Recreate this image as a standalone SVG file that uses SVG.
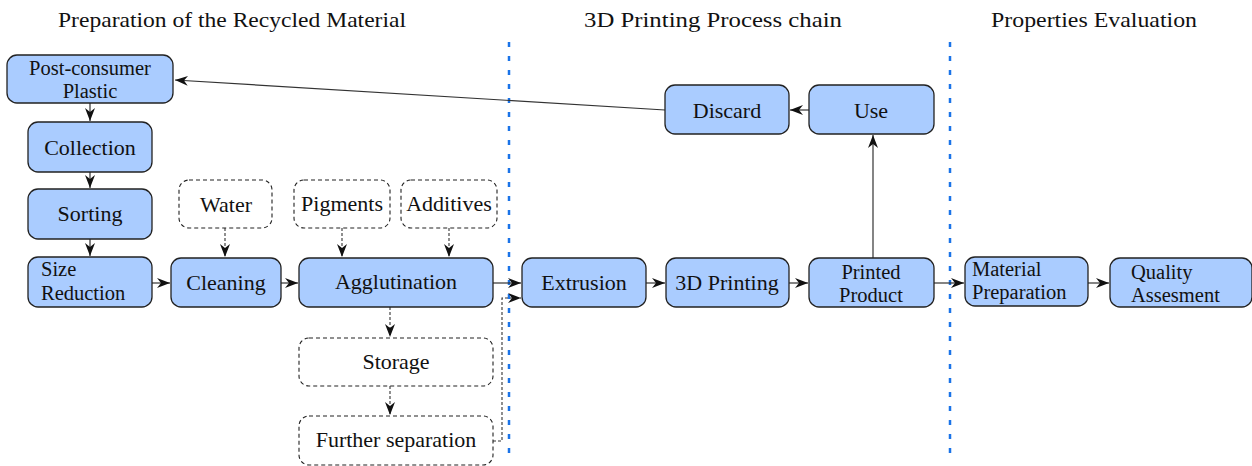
<svg xmlns="http://www.w3.org/2000/svg" width="1252" height="466" viewBox="0 0 1252 466" font-family="'Liberation Serif', 'DejaVu Serif', serif">
<style>
.n{fill:#aaccff;stroke:#222;stroke-width:1.3}
.d{fill:#fff;stroke:#222;stroke-width:1.1;stroke-dasharray:4 3}
.t{font-family:'Liberation Serif','DejaVu Serif',serif;font-size:22px;text-anchor:middle;fill:#111}
.t2{font-family:'Liberation Serif','DejaVu Serif',serif;font-size:20.5px;text-anchor:middle;fill:#111}
.tl{font-family:'Liberation Serif','DejaVu Serif',serif;font-size:20.5px;fill:#111}
.h{font-family:'Liberation Serif','DejaVu Serif',serif;font-size:22px;text-anchor:middle;fill:#111}
.c{fill:none;stroke:#333;stroke-width:1.2}
.cd{fill:none;stroke:#333;stroke-width:1.1;stroke-dasharray:3 2}
.sep{stroke:#1a73e8;stroke-width:2.5;stroke-dasharray:5 9}
</style>
<defs>
<marker id="a" markerWidth="14" markerHeight="10" refX="13" refY="5" orient="auto" markerUnits="userSpaceOnUse">
<path d="M0,0 L13,5 L0,10 L4,5 Z" fill="#111"/>
</marker>
</defs>
<g id="headers">
<text class="h" x="232" y="27" textLength="348" lengthAdjust="spacingAndGlyphs">Preparation of the Recycled Material</text>
<text class="h" x="713" y="27" textLength="258" lengthAdjust="spacingAndGlyphs">3D Printing Process chain</text>
<text class="h" x="1094" y="27" textLength="206" lengthAdjust="spacingAndGlyphs">Properties Evaluation</text>
</g>
<g id="separators">
<line class="sep" x1="509" y1="42" x2="509" y2="462"/>
<line class="sep" x1="950" y1="42" x2="950" y2="462"/>
</g>
<g id="connectors">
<line class="c" x1="90" y1="103" x2="90" y2="121" marker-end="url(#a)"/>
<line class="c" x1="90" y1="172" x2="90" y2="188" marker-end="url(#a)"/>
<line class="c" x1="90" y1="239" x2="90" y2="256" marker-end="url(#a)"/>
<line class="c" x1="152" y1="283" x2="170" y2="283" marker-end="url(#a)"/>
<line class="c" x1="281" y1="283" x2="298" y2="283" marker-end="url(#a)"/>
<line class="cd" x1="225" y1="228" x2="225" y2="257" marker-end="url(#a)"/>
<line class="cd" x1="342" y1="228" x2="342" y2="257" marker-end="url(#a)"/>
<line class="cd" x1="449" y1="228" x2="449" y2="257" marker-end="url(#a)"/>
<line class="cd" x1="390" y1="307" x2="390" y2="337" marker-end="url(#a)"/>
<line class="cd" x1="390" y1="386" x2="390" y2="415" marker-end="url(#a)"/>
<line class="c" x1="493" y1="283" x2="521" y2="283" marker-end="url(#a)"/>
<polyline class="cd" points="493,441 502,441 502,298 521,298" marker-end="url(#a)"/>
<line class="c" x1="646" y1="283" x2="665" y2="283" marker-end="url(#a)"/>
<line class="c" x1="789" y1="283" x2="808" y2="283" marker-end="url(#a)"/>
<line class="c" x1="873" y1="258" x2="873" y2="135" marker-end="url(#a)"/>
<line class="c" x1="809" y1="110" x2="790" y2="110" marker-end="url(#a)"/>
<line class="c" x1="665" y1="110" x2="175" y2="80" marker-end="url(#a)"/>
<line class="c" x1="934" y1="283" x2="964" y2="283" marker-end="url(#a)"/>
<line class="c" x1="1088" y1="283" x2="1109" y2="283" marker-end="url(#a)"/>
</g>
<g id="post-consumer">
<rect class="n" x="7" y="55" width="166" height="48" rx="10"/>
<text class="t2" x="90" y="75">Post-consumer</text>
<text class="t2" x="90" y="98">Plastic</text>
</g>
<g id="collection">
<rect class="n" x="28" y="122" width="124" height="50" rx="10"/>
<text class="t" x="90" y="155">Collection</text>
</g>
<g id="sorting">
<rect class="n" x="28" y="189" width="124" height="50" rx="10"/>
<text class="t" x="90" y="221">Sorting</text>
</g>
<g id="size-reduction">
<rect class="n" x="28" y="257" width="124" height="50" rx="10"/>
<text class="tl" x="41" y="276">Size</text>
<text class="tl" x="41" y="300">Reduction</text>
</g>
<g id="cleaning">
<rect class="n" x="171" y="258" width="110" height="49" rx="10"/>
<text class="t" x="226" y="290">Cleaning</text>
</g>
<g id="agglutination">
<rect class="n" x="299" y="258" width="194" height="49" rx="10"/>
<text class="t" x="396" y="289">Agglutination</text>
</g>
<g id="water">
<rect class="d" x="179" y="180" width="93" height="48" rx="10"/>
<text class="t" x="226" y="212">Water</text>
</g>
<g id="pigments">
<rect class="d" x="294" y="180" width="96" height="48" rx="10"/>
<text class="t" x="342" y="211">Pigments</text>
</g>
<g id="additives">
<rect class="d" x="401" y="180" width="96" height="48" rx="10"/>
<text class="t" x="449" y="211">Additives</text>
</g>
<g id="storage">
<rect class="d" x="299" y="338" width="194" height="48" rx="10"/>
<text class="t" x="396" y="369">Storage</text>
</g>
<g id="further-separation">
<rect class="d" x="299" y="416" width="194" height="49" rx="10"/>
<text class="t" x="396" y="447">Further separation</text>
</g>
<g id="extrusion">
<rect class="n" x="522" y="258" width="124" height="49" rx="10"/>
<text class="t" x="584" y="290">Extrusion</text>
</g>
<g id="printing">
<rect class="n" x="666" y="258" width="123" height="49" rx="10"/>
<text class="t" x="727" y="290">3D Printing</text>
</g>
<g id="printed-product">
<rect class="n" x="809" y="258" width="125" height="49" rx="10"/>
<text class="t2" x="871" y="279">Printed</text>
<text class="t2" x="871" y="302">Product</text>
</g>
<g id="use">
<rect class="n" x="809" y="85" width="125" height="49" rx="10"/>
<text class="t" x="871" y="118">Use</text>
</g>
<g id="discard">
<rect class="n" x="665" y="85" width="124" height="49" rx="10"/>
<text class="t" x="727" y="118">Discard</text>
</g>
<g id="material-preparation">
<rect class="n" x="965" y="257" width="123" height="49" rx="10"/>
<text class="tl" x="972" y="276">Material</text>
<text class="tl" x="972" y="299">Preparation</text>
</g>
<g id="quality">
<rect class="n" x="1110" y="258" width="142" height="49" rx="10"/>
<text class="tl" x="1131" y="279">Quality</text>
<text class="tl" x="1131" y="302">Assesment</text>
</g>
</svg>
